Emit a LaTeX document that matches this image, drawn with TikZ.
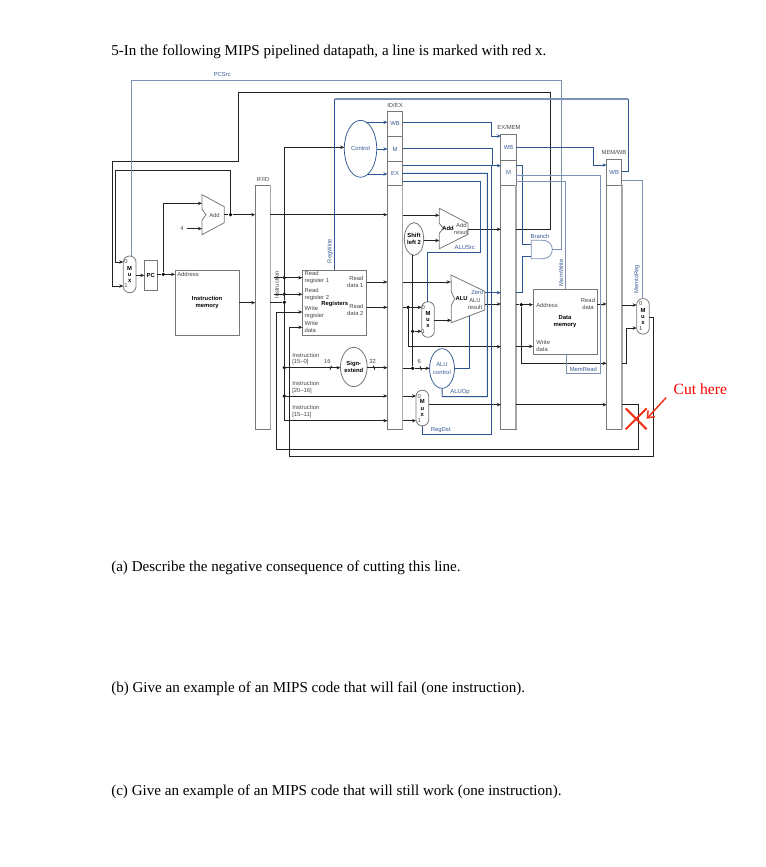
\documentclass[tikz,border=0pt]{standalone}
\usepackage{fontspec}
\setmainfont{Liberation Serif}
\setsansfont{Liberation Sans}
\usepackage{tikz}
\usetikzlibrary{arrows.meta, shapes.geometric, shapes.misc}

\definecolor{wireblack}{RGB}{35,35,35}
\definecolor{boxgray}{RGB}{120,120,120}
\definecolor{ctrlblue}{RGB}{45,85,145}
\definecolor{paleblue}{RGB}{125,145,180}
\definecolor{labblue}{RGB}{55,90,150}
\definecolor{labgray}{RGB}{70,70,70}
\definecolor{cutred}{RGB}{240,50,25}

\tikzset{
    wire/.style={draw=wireblack, line width=0.7pt},
    ctrl/.style={draw=ctrlblue, line width=0.7pt},
    pale/.style={draw=paleblue, line width=0.75pt},
    pipereg/.style={draw=boxgray, line width=0.7pt, minimum width=11.4pt, inner sep=0pt, outer sep=0pt, font=\sffamily\fontsize{4.4}{5.1}\selectfont, text=labblue},
    unit/.style={draw=boxgray, line width=0.7pt, inner sep=0pt, outer sep=0pt, minimum width=48.2pt, minimum height=49pt, align=center, font=\sffamily\bfseries\fontsize{4.4}{5.4}\selectfont},
    muxbox/.style={draw=boxgray, line width=0.6pt, rounded corners=4.6pt, minimum width=9.5pt, minimum height=26.7pt, inner sep=0pt, outer sep=0pt, align=center, font=\sffamily\bfseries\fontsize{4.4}{4.6}\selectfont},
    oval/.style={ellipse, draw=boxgray, line width=0.6pt, inner sep=0pt, outer sep=0pt, align=center, font=\sffamily\bfseries\fontsize{4.4}{5.4}\selectfont},
    ctrloval/.style={ellipse, draw=ctrlblue, line width=0.55pt, inner sep=0pt, outer sep=0pt, align=center, text=labblue, font=\sffamily\fontsize{4.4}{5.4}\selectfont},
    lab/.style={inner sep=0pt, text=labgray, align=left, font=\sffamily\fontsize{4.4}{5.1}\selectfont},
    ctrllab/.style={lab, text=labblue},
    boldlab/.style={lab, text=black, font=\sffamily\bfseries\fontsize{4.4}{5.1}\selectfont},
    dot/.style={circle, fill=black, inner sep=0pt, minimum size=2.7pt},
    body/.style={anchor=west, inner sep=0pt, font=\fontsize{11.3}{13}\selectfont}
}

\begin{document}
\begin{tikzpicture}[x=0.75pt, y=-0.75pt, >={Stealth[length=3pt,width=2.6pt]}]
    \useasboundingbox (0,0) rectangle (765,867);

    % question text
    \node[body] (title) at (111,52) {5-In the following MIPS pipelined datapath, a line is marked with red x.};
    \node[body] (parta) at (111,568) {(a) Describe the negative consequence of cutting this line.};
    \node[body] (partb) at (111,689) {(b) Give an example of an MIPS code that will fail (one instruction).};
    \node[body] (partc) at (111,792) {(c) Give an example of an MIPS code that will still work (one instruction).};

    % pipeline registers
    \node[pipereg, minimum height=183pt] (ifid) at (262.8,307.3) {};
    \node[pipereg, minimum height=183pt] (idex) at (395,307.3) {};
    \node[pipereg, minimum height=19.3pt] (idexwb) at (395,123.85) {WB};
    \node[pipereg, minimum height=18.4pt] (idexm) at (395,149) {M};
    \node[pipereg, minimum height=18pt] (idexex) at (395,173.3) {EX};
    \node[pipereg, minimum height=183pt] (exmem) at (508.5,307.3) {};
    \node[pipereg, minimum height=19.3pt] (exmemwb) at (508.5,147.15) {WB};
    \node[pipereg, minimum height=19pt] (exmemm) at (508.5,172.65) {M};
    \node[pipereg, minimum height=183pt] (memwb) at (614.2,307.3) {};
    \node[pipereg, minimum height=19.5pt] (memwbwb) at (614.2,172.3) {WB};
    \foreach \reg in {ifid, idex, exmem, memwb}
        \draw[draw=black!35, line width=1.1pt] (\reg.north east) -- (\reg.south east);
    \node[lab] (ifidlab) at (263,179) {IF/ID};
    \node[lab] (idexlab) at (395,105) {ID/EX};
    \node[lab] (exmemlab) at (509,127.5) {EX/MEM};
    \node[lab] (memwblab) at (614,152.7) {MEM/WB};

    % functional units
    \node[unit] (imem) at (207.15,302.65) {Instruction\\memory};
    \node[unit] (regs) at (334.5,302.65) {};
    \node[unit] (dmem) at (565.15,321.8) {};
    \node[pipereg, minimum width=9.75pt, minimum height=23pt, text=black, font=\sffamily\bfseries\fontsize{4.4}{5}\selectfont] (pc) at (150.8,275.35) {PC};
    \node[muxbox, minimum height=27.5pt] (pcmux) at (129.65,274.35) {M\\u\\x};
    \node[muxbox] (alumux) at (428,319.5) {M\\u\\x};
    \node[muxbox] (dstmux) at (422.35,408) {M\\u\\x};
    \node[muxbox] (wbmux) at (643,316.35) {M\\u\\x};
    \node[oval, minimum width=19.2pt, minimum height=29.5pt] (signext) at (353.8,367) {Sign-\\extend};
    \node[oval, minimum width=14.5pt, minimum height=24.5pt] (shift) at (414,239) {Shift\\left 2};
    \node[ctrloval, minimum width=24.3pt, minimum height=42.7pt] (control) at (360.5,148.8) {Control};
    \node[ctrloval, minimum width=18.7pt, minimum height=29.7pt] (aluctrl) at (442,368.5) {ALU\\control};

    % adders, ALU, branch gate
    \draw[draw=boxgray, line width=0.6pt] (202,194.7) -- (224.3,206.7) -- (224.3,222.7) -- (202,234.7) -- (202,220) -- (206,214.7) -- (202,209.3) -- cycle;
    \draw[draw=boxgray, line width=0.6pt] (439.3,208.3) -- (468,223.3) -- (468,234.3) -- (439.3,248.7) -- (439.3,233.3) -- (443.3,228.3) -- (439.3,223.3) -- cycle;
    \draw[draw=boxgray, line width=0.6pt] (451,275) -- (484.7,291.3) -- (484.7,310) -- (451.3,322.7) -- (451.3,305) -- (454.7,299) -- (451.3,291.7) -- cycle;
    \draw[draw=paleblue, line width=0.6pt] (531.3,240.3) -- (543,240.3) .. controls (549,240.3) and (552.3,245) .. (552.3,249.5) .. controls (552.3,254) and (549,258.7) .. (543,258.7) -- (531.3,258.7) -- cycle;
    \coordinate (pcaddin1) at (202,203.3);
    \coordinate (pcaddin2) at (202,228.7);
    \coordinate (pcaddout) at (224.3,214.7);
    \coordinate (braddin1) at (439.3,215.3);
    \coordinate (braddin2) at (439.3,240.5);
    \coordinate (braddout) at (468,229.3);
    \coordinate (aluin1) at (450.6,282);
    \coordinate (aluin2) at (451.3,320.3);
    \coordinate (aluzero) at (484.7,292.7);
    \coordinate (alures) at (484.7,304);
    \coordinate (aluop) at (469.7,315.7);
    \coordinate (andin1) at (531.3,244.7);
    \coordinate (andin2) at (531.3,256.7);
    \coordinate (andout) at (552.3,249.5);

    % junctions
    \node[dot] (dotadd) at (230.5,214.7) {};
    \node[dot] (dotpc) at (163.3,274.3) {};
    \node[dot] (dotrr1) at (284.3,277.7) {};
    \node[dot] (dotrr2) at (284.3,294.3) {};
    \node[dot] (dotinstr) at (284.3,302.3) {};
    \node[dot] (dotimm) at (284.3,367.7) {};
    \node[dot] (dotrt) at (284.3,396) {};
    \node[dot] (dotrd2) at (408,307.3) {};
    \node[dot] (dotshift) at (412.7,331.3) {};
    \node[dot] (dotsext) at (412.7,368.3) {};
    \node[dot] (dotaddr) at (521.3,304.7) {};

    % fetch stage
    \draw[wire, ->] (pcmux.east |- pc) -- (pc.west);
    \draw[wire, ->] (pc.east |- dotpc) -- (dotpc) -- (imem.west |- dotpc);
    \draw[wire, ->] (dotpc) |- (pcaddin1);
    \node[lab] (four) at (182,228.7) {4};
    \draw[wire, ->] (four.east) ++(3,0) -- (pcaddin2);
    \draw[wire, ->] (pcaddout) -- (dotadd) -- (ifid.west |- dotadd);
    \draw[wire, ->] (ifid.east |- dotadd) -- (idex.west |- dotadd);
    \draw[wire, ->] (dotadd) |- (115.5,170) |- (pcmux.west |- 0,262);
    \draw[wire, ->] (exmem.east |- braddout) -- (550,229.3) -- (550,92) -- (238,92) -- (238,161) -- (112.5,161) |- (pcmux.west |- 0,286);
    \draw[wire, ->] (imem.east) -- (ifid.west |- imem.east);
    \draw[pale] (andout) -| (561.5,81) -- (131,81) -- (pcmux.north -| 131,0);

    % decode stage
    \draw[wire] (ifid.east |- dotinstr) -- (dotinstr);
    \draw[wire, ->] (dotinstr) |- (control.west |- 0,147.3);
    \draw[wire, ->] (dotinstr) |- (idex.west |- 0,420.7);
    \draw[wire, ->] (dotrr1) ++(-10.6,0) -- (regs.west |- dotrr1);
    \draw[wire, ->] (dotrr2) ++(-10.6,0) -- (regs.west |- dotrr2);
    \draw[wire, ->] (dotimm) -- (signext.west |- dotimm);
    \draw[wire, ->] (dotrt) -- (idex.west |- dotrt);
    \draw[wire, ->] (regs.east |- 0,282) -- (idex.west |- 0,282);
    \draw[wire, ->] (regs.east |- dotrd2) -- (idex.west |- dotrd2);
    \draw[wire, ->] (signext.east |- dotimm) -- (idex.west |- dotimm);
    \draw[wire] (330,369.7) -- (331.5,365.7);
    \draw[wire] (373.3,365.7) -- (374.8,369.7);
    \draw[wire] (420,366.3) -- (421.5,370.3);

    % execute stage
    \draw[wire, ->] (idex.east |- braddin1) -- (braddin1);
    \draw[wire, ->] (shift.east |- braddin2) -- (braddin2);
    \draw[wire] (dotsext |- shift.south) -- (dotsext);
    \draw[wire, ->] (braddout) -- (exmem.west |- braddout);
    \draw[wire, ->] (idex.east |- aluin1) -- (aluin1);
    \draw[wire] (idex.east |- dotrd2) -- (dotrd2);
    \draw[wire, ->] (dotrd2) -- (alumux.west |- dotrd2);
    \draw[wire, ->] (dotrd2) |- (exmem.west |- 0,346.7);
    \draw[wire, ->] (dotshift) -- (alumux.west |- dotshift);
    \draw[wire, ->] (idex.east |- dotsext) -- (dotsext) -- (aluctrl.west |- dotsext);
    \draw[wire, ->] (alumux.east |- aluin2) -- (aluin2);
    \draw[ctrl, ->] (aluzero) -- (exmem.west |- aluzero);
    \draw[wire, ->] (alures) -- (exmem.west |- alures);
    \draw[ctrl] (aluop) |- (aluctrl.east);
    \draw[wire, ->] (idex.east |- 0,396) -- (dstmux.west |- 0,396);
    \draw[wire, ->] (idex.east |- 0,420.7) -- (dstmux.west |- 0,420.7);
    \draw[wire, ->] (dstmux.east |- 0,404.7) -- (exmem.west |- 0,404.7);

    % memory and write back stages
    \draw[wire, ->] (exmem.east |- dotaddr) -- (dotaddr) -- (dmem.west |- dotaddr);
    \draw[wire, ->] (dotaddr) |- (memwb.west |- 0,363.3);
    \draw[wire, ->] (exmem.east |- 0,346.3) -- (dmem.west |- 0,346.3);
    \draw[wire, ->] (dmem.east |- 0,304) -- (memwb.west |- 0,304);
    \draw[wire, ->] (exmem.east |- 0,404.7) -- (memwb.west |- 0,404.7);
    \draw[wire, ->] (memwb.east |- 0,305) -- (wbmux.west |- 0,305);
    \draw[wire, ->] (memwb.east |- 0,363.3) -- (626,363.3) |- (wbmux.west |- 0,328);
    \draw[wire, ->] (wbmux.east |- 0,317.7) -- (653.3,317.7) |- (289,456.3) |- (regs.west |- 0,327.3);
    \draw[wire, ->] (memwb.east |- 0,404.7) -- (638.3,404.7) |- (276.7,449.3) |- (regs.west |- 0,312);

    % control lines
    \draw[ctrl, ->] (366.7,122.3) -- (idexwb.west |- 0,122.3);
    \draw[ctrl, ->] (control.east |- idexm) -- (idexm.west);
    \draw[ctrl, ->] (366.7,174) -- (idexex.west |- 0,174);
    \draw[ctrl] (regs.north) -- (334.5,99);
    \draw[ctrl] (628.3,99) |- (memwbwb.east |- 0,171.3);
    \draw[draw=paleblue, line width=1.1pt] (334.5,99) -- (628.3,99);
    \draw[ctrl, ->] (idexwb.east |- 0,122.7) -- (491.7,122.7) |- (exmemwb.west |- 0,136);
    \draw[ctrl, ->] (idexm.east |- 0,148.5) -- (492.7,148.5) |- (exmemm.west |- 0,165.7);
    \draw[ctrl] (idexex.east |- 0,165.3) -- (491.3,165.3) |- (422.3,434.3) -- (dstmux.south -| 422.3,0);
    \draw[ctrl] (idexex.east |- 0,173.3) -- (487.3,173.3) |- (442.3,396.7) -- (aluctrl.south);
    \draw[ctrl] (idexex.east |- 0,181.7) -- (480.7,181.7) |- (427.3,252.3) -- (alumux.north -| 427.3,0);
    \draw[ctrl, ->] (exmemwb.east |- 0,147) -- (593.7,147) |- (memwbwb.west |- 0,165);
    \draw[ctrl] (exmemm.east |- 0,165.7) -- (522.7,165.7) |- (andin1);
    \draw[ctrl] (exmem.east |- aluzero) -- (522.3,292.7) |- (andin2);
    \draw[pale] (exmemm.east |- 0,181.7) -- (565.3,181.7) -- (dmem.north -| 565.3,0);
    \draw[pale] (exmemm.east |- 0,175.7) -- (600.3,175.7) |- (566.3,373.3) -- (dmem.south -| 566.3,0);
    \draw[pale] (memwbwb.east |- 0,180.7) -- (642.3,180.7) -- (wbmux.north -| 642.3,0);

    % labels on the units
    \node[lab, anchor=west] (addrim) at (177,274) {Address};
    \node[lab, anchor=west] (rr1lab) at (304.3,277.5) {Read\\register 1};
    \node[lab, anchor=west] (rr2lab) at (304.3,294.3) {Read\\register 2};
    \node[boldlab] (regslab) at (334.7,304.3) {Registers};
    \node[lab, anchor=west] (wrlab) at (304.3,312.3) {Write\\register};
    \node[lab, anchor=west] (wdlab) at (304.3,327) {Write\\data};
    \node[lab, anchor=east, align=right] (rd1lab) at (363.7,282) {Read\\data 1};
    \node[lab, anchor=east, align=right] (rd2lab) at (363.7,309.7) {Read\\data 2};
    \node[lab, anchor=west] (i150) at (292,359) {Instruction\\{}[15--0]};
    \node[lab, anchor=west] (i2016) at (292,387.2) {Instruction\\{}[20--16]};
    \node[lab, anchor=west] (i1511) at (292,411.7) {Instruction\\{}[15--11]};
    \node[lab] (instrlab) at (276.7,285) [rotate=90] {Instruction};
    \node[lab] (w16) at (327.3,361) {16};
    \node[lab] (w32) at (372.7,361) {32};
    \node[lab] (w6) at (419.3,361.7) {6};
    \node[lab] (addlab) at (214.5,215) {Add};
    \node[boldlab] (braddlab) at (448,228) {Add};
    \node[lab, align=center] (addres) at (461.3,229.3) {Add\\result};
    \node[boldlab] (alulab) at (461.7,298.7) {ALU};
    \node[ctrllab] (zerolab) at (477.3,292.7) {Zero};
    \node[lab, align=center] (alureslab) at (475,304.2) {ALU\\result};
    \node[lab, anchor=west] (addrdm) at (536,305.3) {Address};
    \node[lab, align=center] (rdlab) at (588,304.2) {Read\\data};
    \node[boldlab, align=center] (dmlab) at (565,321.7) {Data\\memory};
    \node[lab, anchor=west] (wdm) at (536.2,346.2) {Write\\data};
    \node[lab] (m0a) at (126,261.7) {0};
    \node[lab] (m1a) at (126,285.3) {1};
    \node[lab] (m0b) at (423.3,307.7) {0};
    \node[lab] (m1b) at (423.3,331.7) {1};
    \node[lab] (m0c) at (419.3,396.7) {0};
    \node[lab] (m1c) at (419.3,420) {1};
    \node[lab] (m0d) at (640.7,303.7) {0};
    \node[lab] (m1d) at (640.7,328.3) {1};

    % control signal names
    \node[ctrllab] (pcsrc) at (222.3,74.7) {PCSrc};
    \node[ctrllab, rotate=90] (regwrite) at (330,251) {RegWrite};
    \node[ctrllab] (alusrc) at (464.7,247.7) {ALUSrc};
    \node[ctrllab] (branch) at (540,236.7) {Branch};
    \node[ctrllab, rotate=90] (memwrite) at (561,272.7) {MemWrite};
    \node[ctrllab] (memread) at (583.3,369) {MemRead};
    \node[ctrllab, rotate=90] (memtoreg) at (637,279.3) {MemtoReg};
    \node[ctrllab] (aluoplab) at (460,392.3) {ALUOp};
    \node[ctrllab] (regdst) at (440.7,429.7) {RegDst};

    % cut mark on the write register line
    \node[cross out, draw=cutred, line width=1.5pt, minimum size=14.2pt, inner sep=0pt] (cutmark) at (636.2,418.8) {};
    \node[inner sep=0pt, text=red, font=\fontsize{11.7}{14}\selectfont] (cutlab) at (700.3,389) {Cut here};
    \coordinate (cutfrom) at (666,397.7);
    \draw[draw=cutred, line width=1.1pt, -{Straight Barb[length=4.5pt,width=7pt]}] (cutfrom) -- (cutmark.east);
\end{tikzpicture}
\end{document}
